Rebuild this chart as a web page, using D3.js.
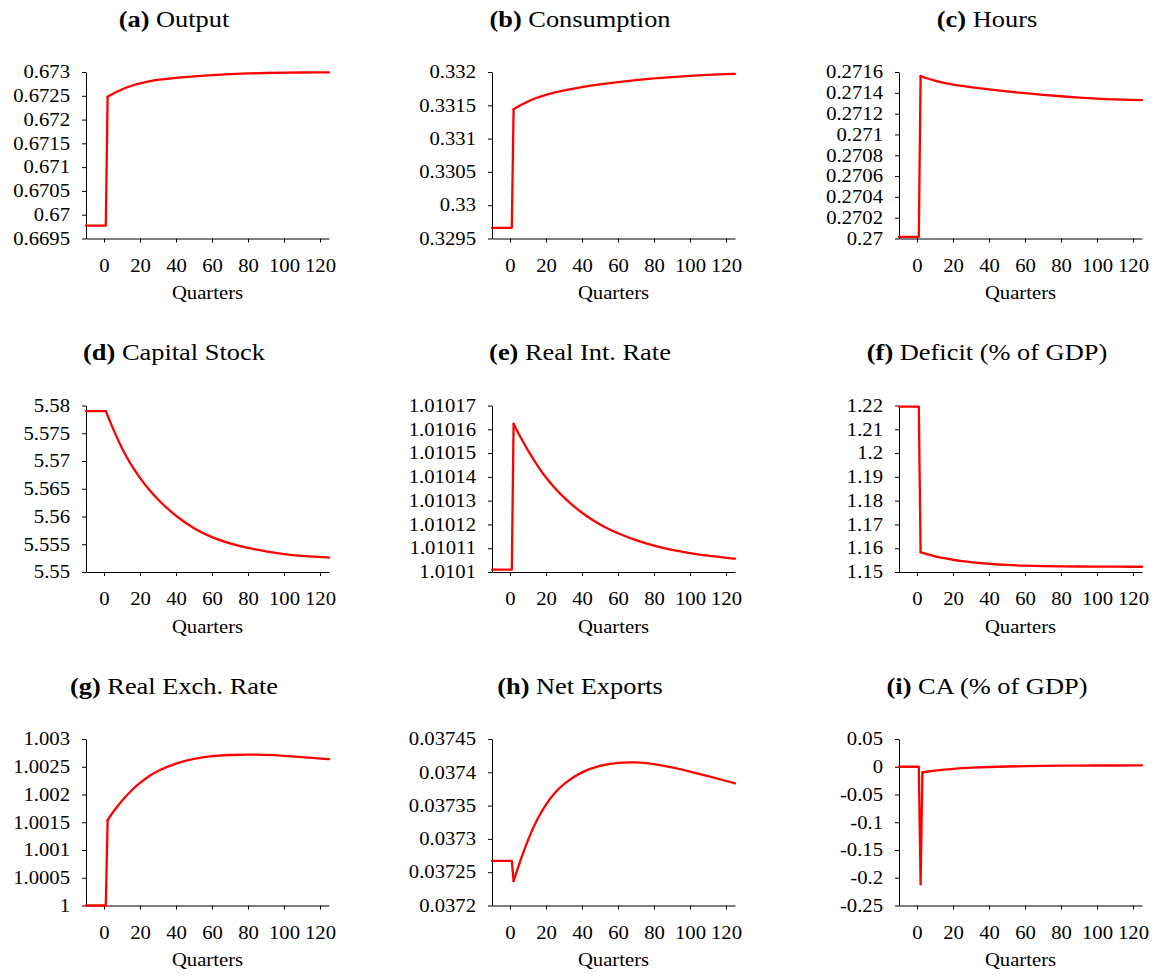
<!DOCTYPE html>
<html><head><meta charset="utf-8">
<script src="https://cdn.jsdelivr.net/npm/d3@7"></script>
<style>
html,body{margin:0;padding:0;background:#fff;}
svg text{font-family:"Liberation Serif","Times New Roman",serif;fill:#000;}
</style></head><body>
<svg id="chart" width="1157" height="976"></svg>
<script>
// ---- data ----
const quarters = [-10, 1, 2, 3, 5, 10, 15, 20, 25, 30, 40, 50, 60, 70, 80, 90, 100, 110, 120, 125];
const xTicks = [0, 20, 40, 60, 80, 100, 120];

const output      = [0.66977, 0.66977, 0.67248, 0.672504, 0.672546, 0.672636, 0.6727085, 0.672761, 0.6728035, 0.672836, 0.672879, 0.672909, 0.672934, 0.672954, 0.67297, 0.67298, 0.672986, 0.6729895, 0.6729915, 0.672992];
const consumption = [0.32966, 0.32966, 0.33144, 0.331457, 0.33149, 0.33156, 0.331615, 0.331658, 0.331695, 0.331725, 0.331774, 0.331814, 0.331849, 0.331879, 0.331904, 0.331925, 0.331943, 0.331957, 0.331968, 0.331973];
const hours       = [0.270015, 0.270015, 0.271561, 0.2715545, 0.2715425, 0.2715165, 0.271495, 0.271479, 0.2714655, 0.2714535, 0.2714325, 0.2714135, 0.2713955, 0.2713805, 0.2713665, 0.2713545, 0.2713435, 0.2713365, 0.2713315, 0.27133];
const capital     = [5.579, 5.579, 5.5782, 5.5774, 5.5758, 5.5722, 5.5693, 5.5669, 5.5648, 5.563, 5.56, 5.5578, 5.5562, 5.5551, 5.5543, 5.5537, 5.5532, 5.5529, 5.5527, 5.5526];
const realRate    = [1.010101, 1.010101, 1.0101623, 1.0101607, 1.0101578, 1.010151, 1.010145, 1.0101395, 1.0101352, 1.0101312, 1.0101246, 1.0101198, 1.0101162, 1.0101133, 1.010111, 1.0101092, 1.0101079, 1.0101068, 1.010106, 1.0101056];
const deficit     = [1.2195, 1.2195, 1.1583, 1.15804, 1.15758, 1.15658, 1.15578, 1.15513, 1.15458, 1.15413, 1.15343, 1.15293, 1.15265, 1.15248, 1.15238, 1.15231, 1.15226, 1.15223, 1.15221, 1.1522];
const exchRate    = [1.0, 1.0, 1.001536, 1.001588, 1.001684, 1.001894, 1.002069, 1.002214, 1.002334, 1.002429, 1.002564, 1.002649, 1.002694, 1.002714, 1.00272, 1.002714, 1.002697, 1.002674, 1.002649, 1.002637];
const netExports  = [0.037267, 0.037267, 0.0372365, 0.037245, 0.0372614, 0.0372994, 0.0373294, 0.0373524, 0.0373699, 0.0373834, 0.0374014, 0.0374104, 0.0374149, 0.0374154, 0.0374126, 0.0374076, 0.0374013, 0.0373943, 0.0373871, 0.0373834];
const currentAcct = [0, 0, -0.212, -0.0102, -0.0092, -0.007, -0.0052, -0.00375, -0.0026, -0.0017, -0.0004, 0.0005, 0.00115, 0.0016, 0.0019, 0.0021, 0.00222, 0.0023, 0.00235, 0.002365];

// index in quarters where each path stops being a jump and becomes a smooth path
const smoothFrom = [2, 2, 2, 1, 2, 2, 2, 2, 3];

const titleLetters = ["(a)", "(b)", "(c)", "(d)", "(e)", "(f)", "(g)", "(h)", "(i)"];
const titleNames = ["Output", "Consumption", "Hours", "Capital Stock", "Real Int. Rate", "Deficit (% of GDP)", "Real Exch. Rate", "Net Exports", "CA (% of GDP)"];

const yTicksA = [0.6695, 0.67, 0.6705, 0.671, 0.6715, 0.672, 0.6725, 0.673];
const yLabelsA = ["0.6695", "0.67", "0.6705", "0.671", "0.6715", "0.672", "0.6725", "0.673"];
const yTicksB = [0.3295, 0.33, 0.3305, 0.331, 0.3315, 0.332];
const yLabelsB = ["0.3295", "0.33", "0.3305", "0.331", "0.3315", "0.332"];
const yTicksC = [0.27, 0.2702, 0.2704, 0.2706, 0.2708, 0.271, 0.2712, 0.2714, 0.2716];
const yLabelsC = ["0.27", "0.2702", "0.2704", "0.2706", "0.2708", "0.271", "0.2712", "0.2714", "0.2716"];
const yTicksD = [5.55, 5.555, 5.56, 5.565, 5.57, 5.575, 5.58];
const yLabelsD = ["5.55", "5.555", "5.56", "5.565", "5.57", "5.575", "5.58"];
const yTicksE = [1.0101, 1.01011, 1.01012, 1.01013, 1.01014, 1.01015, 1.01016, 1.01017];
const yLabelsE = ["1.0101", "1.01011", "1.01012", "1.01013", "1.01014", "1.01015", "1.01016", "1.01017"];
const yTicksF = [1.15, 1.16, 1.17, 1.18, 1.19, 1.2, 1.21, 1.22];
const yLabelsF = ["1.15", "1.16", "1.17", "1.18", "1.19", "1.2", "1.21", "1.22"];
const yTicksG = [1, 1.0005, 1.001, 1.0015, 1.002, 1.0025, 1.003];
const yLabelsG = ["1", "1.0005", "1.001", "1.0015", "1.002", "1.0025", "1.003"];
const yTicksH = [0.0372, 0.03725, 0.0373, 0.03735, 0.0374, 0.03745];
const yLabelsH = ["0.0372", "0.03725", "0.0373", "0.03735", "0.0374", "0.03745"];
const yTicksI = [-0.25, -0.2, -0.15, -0.1, -0.05, 0, 0.05];
const yLabelsI = ["-0.25", "-0.2", "-0.15", "-0.1", "-0.05", "0", "0.05"];

const xLabel = "Quarters";

// ---- panel table built from the arrays ----
const panels = [
  {values: output, ticks: yTicksA, labels: yLabelsA},
  {values: consumption, ticks: yTicksB, labels: yLabelsB},
  {values: hours, ticks: yTicksC, labels: yLabelsC},
  {values: capital, ticks: yTicksD, labels: yLabelsD},
  {values: realRate, ticks: yTicksE, labels: yLabelsE},
  {values: deficit, ticks: yTicksF, labels: yLabelsF},
  {values: exchRate, ticks: yTicksG, labels: yLabelsG},
  {values: netExports, ticks: yTicksH, labels: yLabelsH},
  {values: currentAcct, ticks: yTicksI, labels: yLabelsI}
].map((p, i) => Object.assign(p, {letter: titleLetters[i], name: titleNames[i], smooth: smoothFrom[i]}));

// ---- layout ----
const colX = [86, 492, 899];
const rowY = [72, 405.5, 739];
const plotW = 243, plotH = 166.5;
const tickFont = 18, tickStretch = 1.15, titleFont = 24, titleStretch = 1.1;

const svg = d3.select("#chart");

function stretch(sel, sx, origin) {
  sel.style("transform-box", "fill-box")
     .style("transform-origin", origin)
     .style("transform", `scaleX(${sx})`);
}

panels.forEach((p, i) => {
  const col = i % 3, row = Math.floor(i / 3);
  const g = svg.append("g").attr("transform", `translate(${colX[col]},${rowY[row]})`);

  const x = d3.scaleLinear().domain([-10, 125]).range([0, plotW]);
  const y = d3.scaleLinear().domain([p.ticks[0], p.ticks[p.ticks.length - 1]]).range([plotH, 0]);

  const yAxis = g.append("g")
    .call(d3.axisLeft(y).tickValues(p.ticks).tickFormat((d, k) => p.labels[k])
      .tickSize(4).tickSizeOuter(0).tickPadding(12));
  const xAxis = g.append("g").attr("transform", `translate(0,${plotH})`)
    .call(d3.axisBottom(x).tickValues(xTicks).tickFormat(d3.format("d"))
      .tickSize(4).tickSizeOuter(0).tickPadding(16.5));

  [yAxis, xAxis].forEach(ax => {
    ax.attr("font-family", null).attr("font-size", null);
    ax.selectAll("text").style("font-size", tickFont + "px");
  });
  stretch(yAxis.selectAll("text"), tickStretch, "100% 50%");
  stretch(xAxis.selectAll("text"), tickStretch, "50% 50%");

  const pts = quarters.map((t, k) => ({t: t, v: p.values[k]}));
  const jumpPart = pts.slice(0, p.smooth + 1);
  const smoothPart = pts.slice(p.smooth);

  const lineStyle = sel => sel
    .attr("fill", "none")
    .attr("stroke", "#ff0000")
    .attr("stroke-width", 2.3)
    .attr("stroke-linejoin", "round")
    .attr("stroke-linecap", "round");

  g.append("path").datum(jumpPart).call(lineStyle)
    .attr("d", d3.line().x(d => x(d.t)).y(d => y(d.v)).curve(d3.curveLinear));
  g.append("path").datum(smoothPart).call(lineStyle)
    .attr("d", d3.line().x(d => x(d.t)).y(d => y(d.v)).curve(d3.curveBasis));

  const title = g.append("text")
    .attr("x", 88).attr("y", -45.5)
    .attr("text-anchor", "middle")
    .style("font-size", titleFont + "px");
  title.append("tspan").attr("font-weight", "bold").text(p.letter);
  title.append("tspan").text(" " + p.name);
  stretch(title, titleStretch, "50% 50%");

  const xl = g.append("text")
    .attr("x", plotW / 2).attr("y", plotH + 61)
    .attr("text-anchor", "middle")
    .style("font-size", tickFont + "px")
    .text(xLabel);
  stretch(xl, tickStretch, "50% 50%");
});
</script>
</body></html>
